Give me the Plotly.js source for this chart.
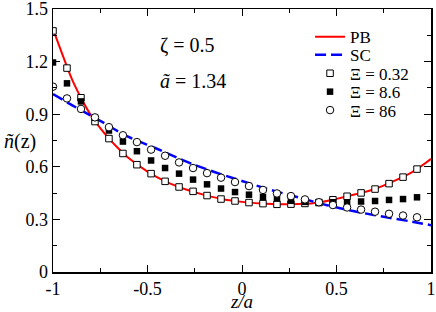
<!DOCTYPE html>
<html>
<head>
<meta charset="utf-8">
<script src="https://cdn.plot.ly/plotly-3.0.1.min.js"></script>
<style>html,body{margin:0;padding:0;background:#fff;}#chart{width:436px;height:312px;}</style>
</head>
<body>
<div id="chart"></div>
<script>
// Marker positions z/a
const zMarkers = [-1, -0.926, -0.852, -0.778, -0.704, -0.630, -0.556, -0.481, -0.407, -0.333, -0.259, -0.185, -0.111, -0.037, 0.037, 0.111, 0.185, 0.259, 0.333, 0.407, 0.481, 0.556, 0.630, 0.704, 0.778, 0.852, 0.926];
// Simulation series
const xi032 = [1.375, 1.163, 0.994, 0.858, 0.761, 0.676, 0.612, 0.561, 0.517, 0.485, 0.460, 0.436, 0.416, 0.405, 0.396, 0.390, 0.386, 0.387, 0.391, 0.396, 0.412, 0.432, 0.451, 0.473, 0.504, 0.541, 0.587];
const xi86a = [1.195, 1.076, 0.973, 0.880, 0.807, 0.744, 0.689, 0.636, 0.593, 0.561, 0.527, 0.500, 0.476, 0.456, 0.441, 0.428, 0.419, 0.406, 0.400, 0.396, 0.398, 0.398, 0.402, 0.405, 0.411, 0.416, 0.426];
const xi86 = [1.057, 0.990, 0.930, 0.882, 0.826, 0.780, 0.741, 0.698, 0.663, 0.625, 0.593, 0.564, 0.538, 0.513, 0.490, 0.468, 0.448, 0.433, 0.414, 0.398, 0.382, 0.368, 0.356, 0.344, 0.332, 0.322, 0.312];
// PB theory curve
const zPB = [-1, -0.95, -0.9, -0.85, -0.8, -0.75, -0.7, -0.65, -0.6, -0.5, -0.4, -0.3, -0.2, -0.1, 0, 0.1, 0.2, 0.3, 0.4, 0.5, 0.6, 0.7, 0.8, 0.9, 0.95, 1];
const nPB = [1.385, 1.24, 1.10, 0.99, 0.895, 0.82, 0.756, 0.70, 0.65, 0.573, 0.514, 0.472, 0.44, 0.415, 0.40, 0.391, 0.386, 0.388, 0.395, 0.417, 0.443, 0.472, 0.517, 0.57, 0.605, 0.645];
// SC theory curve
const zSC = [-1, -0.9, -0.75, -0.6, -0.45, -0.3, -0.15, 0, 0.15, 0.3, 0.45, 0.6, 0.75, 0.9, 1];
const nSC = [1.015, 0.952, 0.862, 0.77, 0.703, 0.632, 0.572, 0.519, 0.469, 0.425, 0.381, 0.345, 0.315, 0.287, 0.267];
// Ticks
const xTickVals = [-1, -0.5, 0, 0.5, 1];
const xTickText = ['-1', '-0.5', '0', '0.5', '1'];
const yTickVals = [0, 0.3, 0.6, 0.9, 1.2, 1.5];
const yTickText = ['0', '0.3', '0.6', '0.9', '1.2', '1.5'];

const SERIF = 'Liberation Serif';

const traces = [
  {x: zPB, y: nPB, name: 'PB', mode: 'lines', line: {color: '#ff0000', width: 2, shape: 'spline'}, legend: 'legend'},
  {x: zSC, y: nSC, name: 'SC', mode: 'lines', line: {color: '#0000ff', width: 2.5, dash: '11px,5px', shape: 'spline'}, legend: 'legend2'},
  {x: zMarkers, y: xi032, name: 'Ξ = 0.32', mode: 'markers', marker: {symbol: 'square', size: 6.5, color: '#ffffff', line: {color: '#000', width: 1}}, legend: 'legend3'},
  {x: zMarkers, y: xi86a, name: 'Ξ = 8.6', mode: 'markers', marker: {symbol: 'square', size: 6.5, color: '#000000', line: {color: '#000', width: 0}}, legend: 'legend4'},
  {x: zMarkers, y: xi86, name: 'Ξ = 86', mode: 'markers', marker: {symbol: 'circle', size: 7.5, color: '#ffffff', line: {color: '#000', width: 1}}, legend: 'legend5'}
];

function leg(y) {
  return {x: 0.68, y: y, xanchor: 'left', yanchor: 'middle', bgcolor: 'rgba(0,0,0,0)', borderwidth: 0,
          font: {family: SERIF, size: 17, color: '#000'}, itemwidth: 30};
}

const layout = {
  width: 436, height: 312,
  margin: {l: 53, r: 5, t: 9, b: 40},
  paper_bgcolor: '#fff', plot_bgcolor: '#fff',
  font: {family: SERIF, color: '#000'},
  showlegend: true,
  legend: leg(0.893), legend2: leg(0.824), legend3: leg(0.754), legend4: leg(0.684), legend5: leg(0.614),
  xaxis: {
    range: [-1, 1], showgrid: false, zeroline: false,
    showline: true, linecolor: '#000', linewidth: 1.5, mirror: 'ticks',
    ticks: 'inside', ticklen: 7, tickwidth: 1, tickcolor: '#000',
    tickmode: 'array', tickvals: xTickVals, ticktext: xTickText, ticklabeloverflow: 'allow',
    tickfont: {family: SERIF, size: 18, color: '#000'},
    minor: {ticks: 'inside', ticklen: 4, tickmode: 'linear', tick0: -1, dtick: 0.25, tickcolor: '#000', tickwidth: 1, showgrid: false},
    title: {text: '<i>z/a</i>', font: {family: SERIF, size: 19, color: '#000'}, standoff: 13}
  },
  yaxis: {
    range: [0, 1.5], showgrid: false, zeroline: false,
    showline: true, linecolor: '#000', linewidth: 1.5, mirror: 'ticks',
    ticks: 'inside', ticklen: 7, tickwidth: 1, tickcolor: '#000',
    tickmode: 'array', tickvals: yTickVals, ticktext: yTickText, ticklabeloverflow: 'allow',
    tickfont: {family: SERIF, size: 18, color: '#000'},
    minor: {ticks: 'inside', ticklen: 4, tickmode: 'linear', tick0: 0, dtick: 0.15, tickcolor: '#000', tickwidth: 1, showgrid: false}
  },
  annotations: [
    {xref: 'paper', yref: 'paper', x: -0.135, y: 0.497, xanchor: 'left', yanchor: 'middle', showarrow: false,
     text: '<i>ñ</i>(z)', font: {family: SERIF, size: 20, color: '#000'}},
    {xref: 'x', yref: 'y', x: -0.444, y: 1.29, xanchor: 'left', yanchor: 'middle', showarrow: false,
     text: 'ζ = 0.5', font: {family: SERIF, size: 20, color: '#000'}},
    {xref: 'x', yref: 'y', x: -0.444, y: 1.09, xanchor: 'left', yanchor: 'middle', showarrow: false,
     text: '<i>ã</i> = 1.34', font: {family: SERIF, size: 20, color: '#000'}}
  ]
};

Plotly.newPlot('chart', traces, layout, {displayModeBar: false, staticPlot: true});
</script>
</body>
</html>
